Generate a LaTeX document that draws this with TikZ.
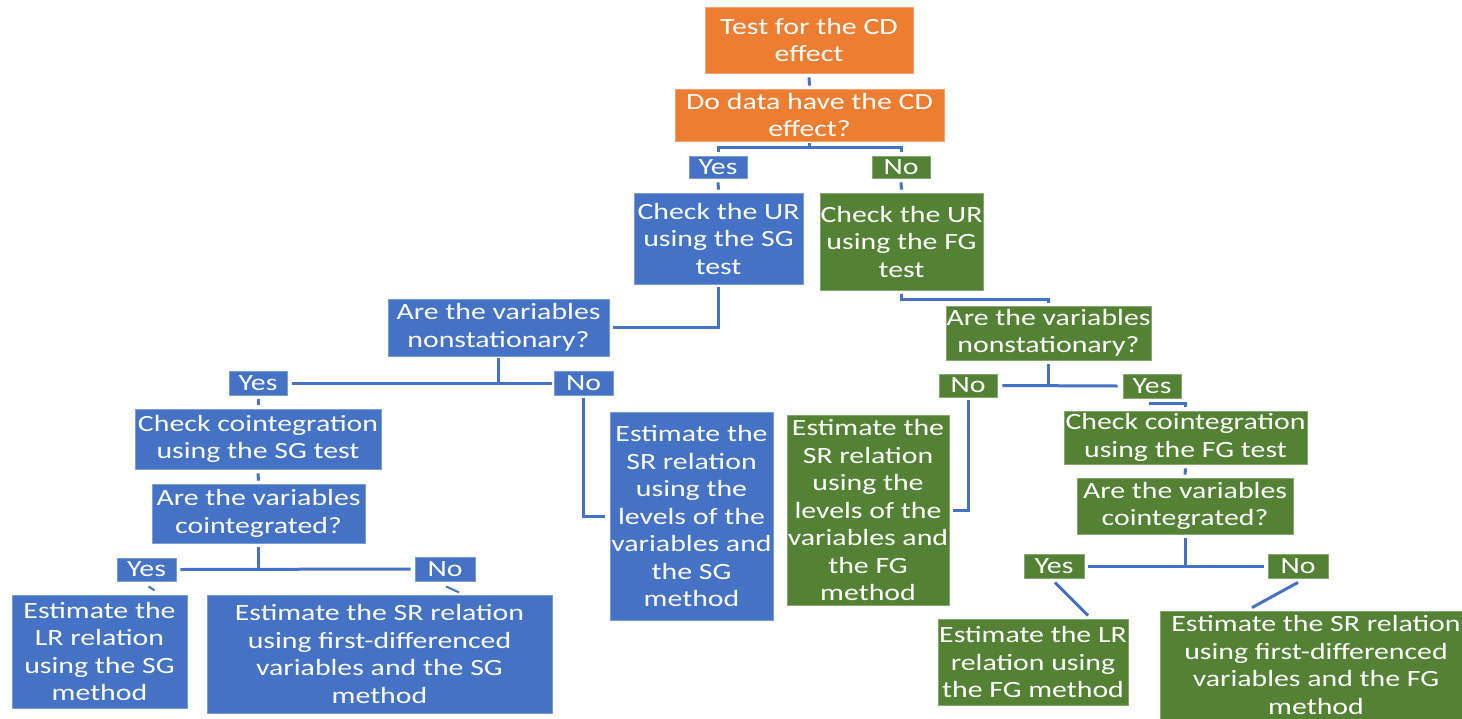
\documentclass[tikz,border=0pt]{standalone}
\usepackage{fontspec}
\setmainfont{Carlito}[FakeStretch=1.28]
\definecolor{cdorange}{HTML}{ED7D31}
\definecolor{cdblue}{HTML}{4472C4}
\definecolor{cdgreen}{HTML}{548235}
\definecolor{cdline}{HTML}{4472C4}
\tikzset{
  base/.style={rectangle, inner sep=0pt, text=white, align=center,
    font=\fontsize{23.3}{27.5}\selectfont, line width=0.8pt},
  ob/.style={base, fill=cdorange, draw=cdorange!70!white},
  bb/.style={base, fill=cdblue, draw=cdblue!70!white},
  gb/.style={base, fill=cdgreen, draw=cdgreen!70!white},
  sz/.style 2 args={minimum width=#1pt, minimum height=#2pt},
  conn/.style={draw=cdline, line width=3pt},
  tickline/.style={draw=cdline, line width=2pt},
}
\begin{document}
\begin{tikzpicture}[x=1pt, y=-1pt]
\useasboundingbox (0,0) rectangle (1462,718);
\clip (0,0) rectangle (1462,718);
% top
\node[ob, sz={208}{66}] (o1) at (809,40) {Test for the CD\\effect};
\node[ob, sz={269}{52}] (o2) at (809.5,115) {Do data have the CD\\effect?};
\node[bb, sz={58}{22}] (yes1) at (718,167) {Yes};
\node[gb, sz={58}{22}] (no1) at (901,167) {No};
\node[bb, sz={169}{91}] (chkSG) at (718.5,238.5) {Check the UR\\using the SG\\test};
\node[gb, sz={163}{97}] (chkFG) at (901.5,241.5) {Check the UR\\using the FG\\test};
% second level
\node[bb, sz={221}{57}] (nsSG) at (498.5,327.5) {Are the variables\\nonstationary?};
\node[gb, sz={205}{54}] (nsFG) at (1048.5,333) {Are the variables\\nonstationary?};
\node[bb, sz={58}{24}] (yes2) at (258,383) {Yes};
\node[bb, sz={59}{24}] (no2) at (583.5,383) {No};
\node[gb, sz={58}{23}] (no3) at (968,385.5) {No};
\node[gb, sz={58}{24}] (yes3) at (1152,386) {Yes};
% SG branch
\node[bb, sz={246}{60}] (coSG) at (258,439) {Check cointegration\\using the SG test};
\node[bb, sz={213}{59}] (aciSG) at (258.5,513.5) {Are the variables\\cointegrated?};
\node[bb, sz={163}{208}] (levSG) at (691.5,516) {Estimate the\\SR relation\\using the\\levels of the\\variables and\\the SG\\method};
\node[gb, sz={162}{190}] (levFG) at (868,510) {Estimate the\\SR relation\\using the\\levels of the\\variables and\\the FG\\method};
\node[gb, sz={243}{53}] (coFG) at (1185.5,437.5) {Check cointegration\\using the FG test};
\node[gb, sz={216}{56}] (aciFG) at (1185,506) {Are the variables\\cointegrated?};
\node[bb, sz={59}{23}] (yes4) at (146.5,569.5) {Yes};
\node[bb, sz={60}{24}] (no4) at (445,569) {No};
\node[gb, sz={60}{24}] (yes5) at (1054,566) {Yes};
\node[gb, sz={60}{24}] (no5) at (1298,566) {No};
\node[bb, sz={175}{113}] (lrSG) at (99.5,651.5) {Estimate the\\LR relation\\using the SG\\method};
\node[bb, sz={345}{118}] (srSG) at (379.5,654) {Estimate the SR relation\\using first-differenced\\variables and the SG\\method};
\node[gb, sz={190}{86}] (lrFG) at (1033,662) {Estimate the LR\\relation using\\the FG method};
\node[gb, sz={312}{108}] (srFG) at (1316,665) {Estimate the SR relation\\using first-differenced\\variables and the FG\\method};
% connectors
\draw[conn] ([yshift=-4pt]o1.south) -- ([yshift=3pt]o2.north);
\draw[conn] ([yshift=4pt]yes1.north) |- ([yshift=-6pt]o2.south) -| ([yshift=4pt]no1.north);
\draw[conn] ([yshift=-2pt]o2.south) -- ([yshift=-6pt]o2.south);
\draw[conn] ([yshift=-4pt]yes1.south) -- ([yshift=3pt]chkSG.north);
\draw[conn] ([yshift=-4pt]no1.south) -- ([yshift=3pt]chkFG.north);
\draw[conn] ([yshift=-3pt]chkSG.south) |- ([xshift=4pt]nsSG.east);
\draw[conn] ([yshift=-4pt]chkFG.south) -- ++(0,5) -| ([yshift=3pt]nsFG.north);
\draw[conn] ([xshift=5pt]yes2.east) -- ([xshift=-2pt]no2.west);
\draw[conn] ([yshift=-2pt]nsSG.south) -- (nsSG.south |- yes2.east);
\draw[conn] ([yshift=-4pt]yes2.south) -- ([yshift=4pt]coSG.north);
\draw[conn] ([yshift=-4pt]coSG.south) -- ([yshift=3pt]aciSG.north);
\draw[conn] ([xshift=4pt]yes4.east) -- ([xshift=-4pt]no4.west);
\draw[conn] ([yshift=-4pt]aciSG.south) -- (aciSG.south |- yes4.east);
\draw[tickline] ([shift={(2pt,-5pt)}]yes4.south) -- ([shift={(8pt,-9pt)}]yes4.south);
\draw[tickline] ([shift={(1pt,-5pt)}]no4.south) -- ([shift={(14pt,-11pt)}]no4.south);
\draw[conn] ([yshift=-3pt]no2.south) |- ([xshift=-5pt]levSG.west);
\draw[conn] ([xshift=5pt]no3.east) -- ([xshift=-5pt]yes3.west);
\draw[conn] ([yshift=-4pt]nsFG.south) -- (nsFG.south |- yes3.west);
\draw[conn] ([yshift=-3pt]no3.south) |- ([xshift=4pt]levFG.east);
\draw[conn] ([shift={(-3pt,-5pt)}]yes3.south) -| ([yshift=4pt]coFG.north);
\draw[conn] ([yshift=-4pt]coFG.south) -- ([yshift=3pt]aciFG.north);
\draw[conn] ([xshift=4pt]yes5.east) -- ([xshift=-4pt]no5.west);
\draw[conn] ([yshift=-4pt]aciFG.south) -- (aciFG.south |- yes5.east);
\draw[conn] ([shift={(1pt,-4pt)}]yes5.south) -- ([shift={(55pt,3pt)}]lrFG.north);
\draw[conn] ([shift={(0pt,-4pt)}]no5.south) -- ([shift={(-64pt,3pt)}]srFG.north);
\end{tikzpicture}
\end{document}
